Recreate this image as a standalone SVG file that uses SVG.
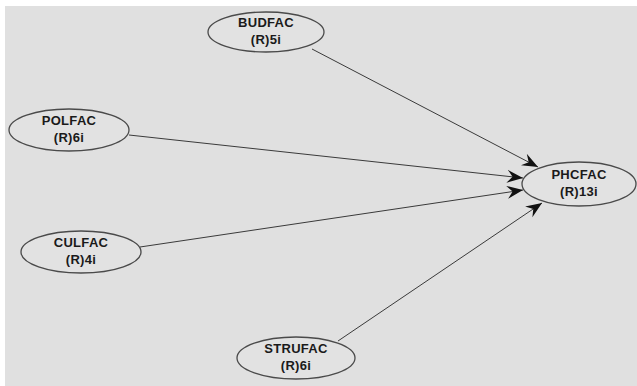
<svg xmlns="http://www.w3.org/2000/svg" width="637" height="386" viewBox="0 0 637 386">
<style>
.node ellipse{fill:#e2e2e2;stroke:#4a4a4a;stroke-width:1.3}
.node text{font-family:"Liberation Sans",Arial,sans-serif;font-weight:bold;font-size:13px;letter-spacing:0.3px;fill:#1a1a1a;text-anchor:middle}
.edges line{stroke:#3a3a3a;stroke-width:1;marker-end:url(#arr)}
</style>
<defs>
<marker id="arr" markerUnits="userSpaceOnUse" markerWidth="18" markerHeight="14" refX="16" refY="6.5" orient="auto" viewBox="0 0 18 13">
<path d="M0,0 L16,6.5 L0,13 L5.5,6.5 z" fill="#111"/>
</marker>
</defs>
<rect x="0" y="0" width="637" height="386" fill="#ffffff"/>
<rect x="5" y="6" width="632" height="380" fill="#e0e0e0"/>
<g class="edges">
<line x1="312" y1="49" x2="538" y2="167"/>
<line x1="129" y1="135" x2="523" y2="178"/>
<line x1="140" y1="247" x2="523" y2="190"/>
<line x1="338" y1="341" x2="542" y2="203"/>
</g>
<g id="BUDFAC" class="node">
<ellipse cx="266" cy="32" rx="58" ry="20"/>
<text x="266" y="27">BUDFAC</text>
<text x="266" y="44">(R)5i</text>
</g>
<g id="POLFAC" class="node">
<ellipse cx="69" cy="130" rx="60" ry="21"/>
<text x="69" y="125">POLFAC</text>
<text x="69" y="142">(R)6i</text>
</g>
<g id="CULFAC" class="node">
<ellipse cx="81" cy="252" rx="60" ry="21"/>
<text x="81" y="247">CULFAC</text>
<text x="81" y="264">(R)4i</text>
</g>
<g id="STRUFAC" class="node">
<ellipse cx="296" cy="358" rx="59" ry="21"/>
<text x="296" y="353">STRUFAC</text>
<text x="296" y="370">(R)6i</text>
</g>
<g id="PHCFAC" class="node">
<ellipse cx="579" cy="184" rx="57" ry="22"/>
<text x="579" y="179">PHCFAC</text>
<text x="579" y="196">(R)13i</text>
</g>
</svg>
